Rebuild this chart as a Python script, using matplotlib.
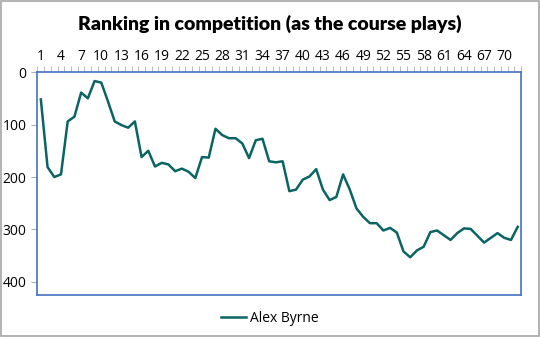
import numpy as np
import matplotlib.pyplot as plt

plt.rcParams['font.family'] = ['Open Sans', 'DejaVu Sans']

# Ranking per round
rounds = np.arange(1, 73)
ranking = [52, 181, 200, 195, 94, 85, 39, 50, 17, 20,
           56, 94, 101, 106, 94, 162, 150, 180, 173, 176,
           189, 184, 190, 202, 162, 163, 108, 120, 126, 126,
           136, 164, 130, 127, 170, 172, 170, 227, 224, 205,
           199, 185, 224, 244, 238, 195, 224, 260, 276, 288,
           288, 302, 297, 306, 342, 353, 340, 333, 305, 302,
           311, 320, 307, 298, 299, 312, 325, 316, 307, 316,
           320, 295]
tick_labels = list(range(1, 73, 3))

fig = plt.figure(figsize=(5.4, 3.37), dpi=100)
ax = fig.add_axes([0.0694, 0.1246, 0.8955, 0.6614])

ax.plot(rounds, ranking, color="#0b6464", lw=1.8, label="Alex Byrne")

ax.set_xlim(0.5, 72.5)
ax.set_ylim(425, 0)
ax.set_yticks([0, 100, 200, 300, 400])

# categories on top, tick marks between categories
ax.xaxis.tick_top()
ax.set_xticks(tick_labels)
ax.set_xticklabels([str(t) for t in tick_labels], fontsize=10)
ax.tick_params(axis="x", which="major", length=0, pad=6)
ax.set_xticks(np.arange(0.5, 73, 1), minor=True)
ax.tick_params(axis="x", which="minor", length=4, color="#b0b0b0", top=True, bottom=False)
ax.tick_params(axis="y", length=4, color="#b0b0b0", labelsize=10, pad=4)

for s in ax.spines.values():
    s.set_color("#4472c4")
    s.set_linewidth(1.2)

fig.suptitle("Ranking in competition (as the course plays)", fontsize=14,
             fontweight="heavy", family=["Lato", "DejaVu Sans"], y=0.955)

fig.legend(loc="center", bbox_to_anchor=(0.5, 0.055), frameon=False,
           fontsize=10, handlelength=1.8, handletextpad=0.3)

# outer chart border
fig.patches.append(plt.Rectangle((0.002, 0.003), 0.996, 0.994, transform=fig.transFigure,
                                 fill=False, edgecolor="#a6a6a6", lw=1.2))

fig.savefig("out.png", dpi=100)
